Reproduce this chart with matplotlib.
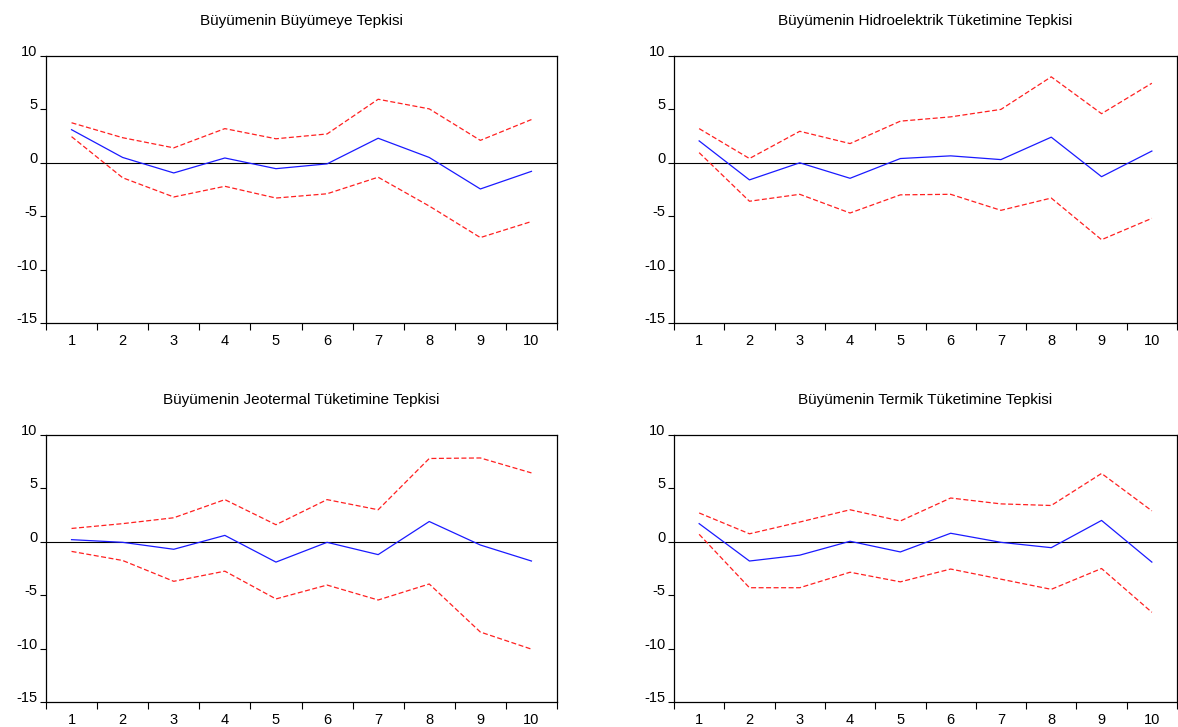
import numpy as np
import matplotlib.pyplot as plt
from matplotlib.ticker import FixedLocator

plt.rcParams['font.family'] = ['Liberation Sans', 'DejaVu Sans']
plt.rcParams['axes.unicode_minus'] = False

periods = list(range(1, 11))

titles = [
    "Büyümenin Büyümeye Tepkisi",
    "Büyümenin Hidroelektrik Tüketimine Tepkisi",
    "Büyümenin Jeotermal Tüketimine Tepkisi",
    "Büyümenin Termik Tüketimine Tepkisi",
]

# impulse response (blue) and +/- 2 S.E. bands (red dashed)
resp_buyume = [3.1, 0.5, -0.95, 0.45, -0.55, -0.1, 2.3, 0.5, -2.45, -0.8]
upper_buyume = [3.75, 2.35, 1.4, 3.2, 2.25, 2.7, 5.95, 5.05, 2.1, 4.05]
lower_buyume = [2.45, -1.4, -3.2, -2.2, -3.3, -2.9, -1.35, -4.05, -7.0, -5.5]

resp_hidro = [2.05, -1.6, 0.0, -1.45, 0.4, 0.65, 0.3, 2.4, -1.3, 1.1]
upper_hidro = [3.2, 0.4, 2.95, 1.8, 3.9, 4.3, 5.0, 8.05, 4.6, 7.45]
lower_hidro = [0.95, -3.6, -2.95, -4.7, -3.0, -2.95, -4.45, -3.3, -7.2, -5.2]

resp_jeo = [0.2, -0.05, -0.7, 0.6, -1.9, -0.05, -1.2, 1.9, -0.3, -1.8]
upper_jeo = [1.25, 1.7, 2.25, 3.95, 1.6, 3.95, 3.0, 7.8, 7.85, 6.45]
lower_jeo = [-0.9, -1.75, -3.7, -2.75, -5.35, -4.05, -5.45, -3.95, -8.45, -10.05]

resp_termik = [1.7, -1.8, -1.25, 0.05, -0.95, 0.8, -0.05, -0.55, 2.0, -1.9]
upper_termik = [2.7, 0.75, 1.85, 3.0, 1.95, 4.1, 3.55, 3.4, 6.4, 2.9]
lower_termik = [0.7, -4.3, -4.3, -2.85, -3.75, -2.55, -3.5, -4.45, -2.5, -6.6]

panels = [
    (resp_buyume, upper_buyume, lower_buyume),
    (resp_hidro, upper_hidro, lower_hidro),
    (resp_jeo, upper_jeo, lower_jeo),
    (resp_termik, upper_termik, lower_termik),
]

W, H = 1178, 727
fig = plt.figure(figsize=(W / 100, H / 100), dpi=100)

# axes boxes in pixels: left, top, right, bottom
boxes = [
    (46, 56, 557, 323),
    (674, 56, 1177, 323),
    (46, 435, 557, 702),
    (674, 435, 1177, 702),
]

for (l, t, r, b), title, (resp, up, lo) in zip(boxes, titles, panels):
    ax = fig.add_axes([l / W, 1 - b / H, (r - l) / W, (b - t) / H])
    ax.axhline(0, color='black', lw=0.8)
    ax.plot(periods, up, color='#ff2020', lw=0.9, ls=(0, (4, 2)))
    ax.plot(periods, lo, color='#ff2020', lw=0.9, ls=(0, (4, 2)))
    ax.plot(periods, resp, color='#1a1aff', lw=0.9)
    ax.set_xlim(0.5, 10.5)
    ax.set_ylim(-15, 10)
    ax.set_yticks([-15, -10, -5, 0, 5, 10])
    ax.xaxis.set_major_locator(FixedLocator(np.arange(0.5, 11, 1)))
    ax.xaxis.set_minor_locator(FixedLocator(periods))
    ax.set_xticklabels([])
    ax.set_xticklabels([str(p) for p in periods], minor=True)
    ax.tick_params(axis='x', which='major', length=5, width=0.8, direction='out')
    ax.tick_params(axis='x', which='minor', length=0, pad=8, labelsize=10.5)
    ax.tick_params(axis='y', length=4, width=0.8, direction='out', pad=2, labelsize=10.5)
    plt.setp(ax.get_yticklabels(), va='baseline')
    for s in ax.spines.values():
        s.set_linewidth(0.9)
    ax.set_title(title, fontsize=11, pad=22)

fig.savefig('out.png', dpi=100)
